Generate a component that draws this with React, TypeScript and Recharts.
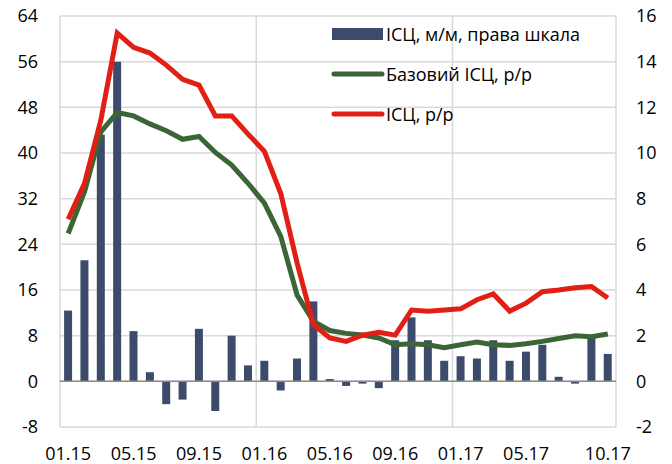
import { ComposedChart, Bar, Line, XAxis, YAxis, CartesianGrid, ReferenceLine } from 'recharts';

const months = [
  '01.15', '02.15', '03.15', '04.15', '05.15', '06.15', '07.15', '08.15', '09.15', '10.15', '11.15', '12.15',
  '01.16', '02.16', '03.16', '04.16', '05.16', '06.16', '07.16', '08.16', '09.16', '10.16', '11.16', '12.16',
  '01.17', '02.17', '03.17', '04.17', '05.17', '06.17', '07.17', '08.17', '09.17', '10.17',
];

// ІСЦ, м/м (права шкала)
const cpiMoM = [
  3.1, 5.3, 10.8, 14.0, 2.2, 0.4, -1.0, -0.8, 2.3, -1.3, 2.0, 0.7,
  0.9, -0.4, 1.0, 3.5, 0.1, -0.2, -0.1, -0.3, 1.8, 2.8, 1.8, 0.9,
  1.1, 1.0, 1.8, 0.9, 1.3, 1.6, 0.2, -0.1, 2.0, 1.2,
];

// Базовий ІСЦ, р/р
const coreYoY = [
  25.9, 33.2, 43.7, 47.1, 46.5, 45.1, 43.9, 42.4, 42.9, 40.1, 37.9, 34.7,
  31.2, 25.4, 15.1, 10.5, 8.9, 8.4, 8.1, 7.6, 6.4, 6.6, 6.4, 5.9,
  6.4, 6.9, 6.4, 6.3, 6.6, 7.0, 7.5, 8.0, 7.8, 8.3,
];

// ІСЦ, р/р
const cpiYoY = [
  28.4, 34.7, 45.8, 61.0, 58.5, 57.5, 55.4, 52.9, 51.9, 46.5, 46.5, 43.3,
  40.3, 32.9, 20.7, 9.9, 7.6, 7.0, 8.1, 8.6, 8.1, 12.5, 12.3, 12.5,
  12.7, 14.3, 15.3, 12.3, 13.7, 15.7, 16.0, 16.4, 16.6, 14.6,
];

const xTicks = ['01.15', '05.15', '09.15', '01.16', '05.16', '09.16', '01.17', '05.17', '10.17'];
const leftTicks = [-8, 0, 8, 16, 24, 32, 40, 48, 56, 64];
const rightTicks = [-2, 0, 2, 4, 6, 8, 10, 12, 14, 16];

const legendItems = [
  { label: 'ІСЦ, м/м, права шкала', color: '#3C4A6B', kind: 'bar' },
  { label: 'Базовий ІСЦ, р/р', color: '#3B6536', kind: 'line' },
  { label: 'ІСЦ, р/р', color: '#E21F14', kind: 'line' },
];

const data = months.map((m, i) => ({ month: m, mom: cpiMoM[i], core: coreYoY[i], cpi: cpiYoY[i] }));

const font = '"Open Sans", sans-serif';

function LegendBox() {
  return (
    <div style={{ position: 'absolute', left: 328, top: 14, fontFamily: font, fontSize: 18, color: '#000', lineHeight: 1 }}>
      {legendItems.map((it) => (
        <div key={it.label} style={{ display: 'flex', alignItems: 'center', height: 40 }}>
          <svg width={58} height={16}>
            {it.kind === 'bar' ? (
              <rect x={4} y={2} width={51} height={12} fill={it.color} />
            ) : (
              <line x1={6} y1={8} x2={54} y2={8} stroke={it.color} strokeWidth={5} strokeLinecap="round" />
            )}
          </svg>
          <span>{it.label}</span>
        </div>
      ))}
    </div>
  );
}

export default function App() {
  const tickStyle = { fontSize: 18, fill: '#000', fontFamily: font };
  return (
    <div style={{ position: 'absolute', left: 0, top: 0, width: 672, height: 464, background: '#fff' }}>
      <ComposedChart width={672} height={464} data={data} margin={{ top: 16, right: 0, bottom: 0, left: 0 }} barCategoryGap="25%">
        <CartesianGrid vertical={false} stroke="#D9D9D9" strokeWidth={1.5} yAxisId="left" />
        <XAxis dataKey="month" ticks={xTicks} interval={0} axisLine={false} tickLine={false} height={37} tick={tickStyle} tickMargin={14} />
        <YAxis yAxisId="left" domain={[-8, 64]} ticks={leftTicks} width={60} axisLine={false} tickLine={false} tick={tickStyle} tickMargin={16} />
        <YAxis yAxisId="right" orientation="right" domain={[-2, 16]} ticks={rightTicks} width={56} axisLine={false} tickLine={false} tick={{ ...tickStyle, textAnchor: 'start' }} tickMargin={14} />
        <ReferenceLine yAxisId="left" x="01.15" position="start" stroke="#D9D9D9" strokeWidth={1.5} />
        <ReferenceLine yAxisId="left" x="01.16" position="start" stroke="#D9D9D9" strokeWidth={1.5} />
        <ReferenceLine yAxisId="left" x="01.17" position="start" stroke="#D9D9D9" strokeWidth={1.5} />
        <ReferenceLine yAxisId="left" x="10.17" position="end" stroke="#D9D9D9" strokeWidth={1.5} />
        <ReferenceLine yAxisId="left" y={0} stroke="#8C8C8C" strokeWidth={1.5} />
        <Bar yAxisId="right" dataKey="mom" name="ІСЦ, м/м, права шкала" fill="#3C4A6B" isAnimationActive={false} />
        <Line yAxisId="left" type="linear" dataKey="core" name="Базовий ІСЦ, р/р" stroke="#3B6536" strokeWidth={5} dot={false} isAnimationActive={false} />
        <Line yAxisId="left" type="linear" dataKey="cpi" name="ІСЦ, р/р" stroke="#E21F14" strokeWidth={5} dot={false} isAnimationActive={false} />
      </ComposedChart>
      <LegendBox />
    </div>
  );
}
